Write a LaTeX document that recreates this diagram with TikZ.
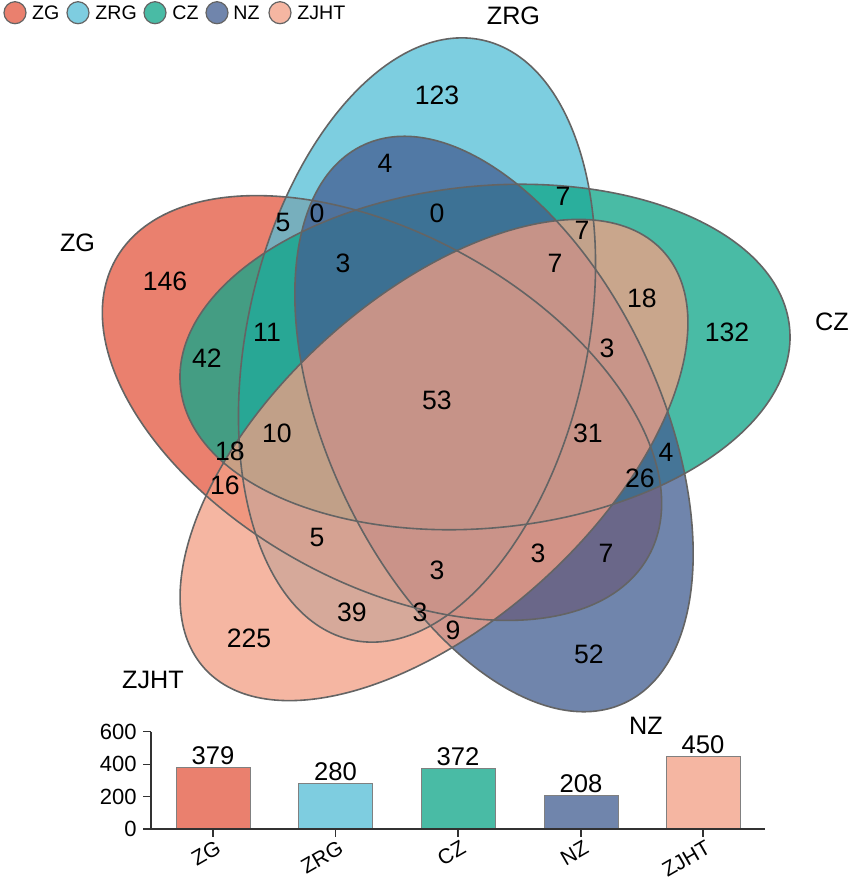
\documentclass[tikz,border=0pt]{standalone}
\usepackage{fontspec}
\setmainfont{Liberation Sans}
\definecolor{cZG}{RGB}{227,88,64}
\definecolor{cZRG}{RGB}{84,190,214}
\definecolor{cCZ}{RGB}{16,166,137}
\definecolor{cNZ}{RGB}{67,95,146}
\definecolor{cZJHT}{RGB}{242,159,133}
\definecolor{bZG}{RGB}{234,128,110}
\definecolor{bZRG}{RGB}{126,205,224}
\definecolor{bCZ}{RGB}{73,187,165}
\definecolor{bNZ}{RGB}{112,133,172}
\definecolor{bZJHT}{RGB}{245,182,162}
\definecolor{edge}{RGB}{100,100,100}
\definecolor{axisc}{RGB}{50,50,50}
\begin{document}
\begin{tikzpicture}[x=0.5pt,y=-0.5pt,
  setfill/.style={fill=#1, fill opacity=0.76, draw=none},
  setedge/.style={draw=edge, line width=0.8pt},
  num/.style={font=\fontsize{13.3}{15}\selectfont, inner sep=0pt},
  setname/.style={font=\fontsize{12.6}{15}\selectfont, inner sep=0pt},
  legtext/.style={font=\fontsize{9.8}{12}\selectfont, anchor=west, inner sep=0pt},
  legdot/.style={circle, draw=edge, line width=0.6pt, minimum size=11pt, inner sep=0pt, fill=#1},
  barbox/.style={fill=#1, draw=gray, line width=0.4pt},
  axisline/.style={draw=axisc, line width=0.7pt},
  barval/.style={font=\fontsize{12.8}{15}\selectfont, inner sep=0pt, anchor=base},
  ticklab/.style={font=\fontsize{11}{12}\selectfont, inner sep=0pt, anchor=east},
  catlab/.style={font=\fontsize{10.5}{12}\selectfont, inner sep=0pt, anchor=north east, rotate=30}
]
\useasboundingbox (0,0) rectangle (851,880);

% ---------- set fills ----------
\path[setfill=cZG,   shift={(382,408)}, rotate=-29.1] (0,0) ellipse [x radius=305, y radius=174];
\path[setfill=cZRG,  shift={(417,340)}, rotate=77.7]  (0,0) ellipse [x radius=307, y radius=170];
\path[setfill=cCZ,   shift={(485,357)}, rotate=5.5]   (0,0) ellipse [x radius=306, y radius=171];
\path[setfill=cNZ,   shift={(494,424)}, rotate=-64.9] (0,0) ellipse [x radius=308, y radius=166];
\path[setfill=cZJHT, shift={(434,460)}, rotate=42.3]  (0,0) ellipse [x radius=310, y radius=162];

% ---------- set outlines ----------
\draw[setedge, shift={(382,408)}, rotate=-29.1] (0,0) ellipse [x radius=305, y radius=174];
\draw[setedge, shift={(417,340)}, rotate=77.7]  (0,0) ellipse [x radius=307, y radius=170];
\draw[setedge, shift={(485,357)}, rotate=5.5]   (0,0) ellipse [x radius=306, y radius=171];
\draw[setedge, shift={(494,424)}, rotate=-64.9] (0,0) ellipse [x radius=308, y radius=166];
\draw[setedge, shift={(434,460)}, rotate=42.3]  (0,0) ellipse [x radius=310, y radius=162];

% ---------- set names ----------
\node[setname] (lZRG)  at (513.5,16) {ZRG};
\node[setname] (lZG)   at (77.5,243) {ZG};
\node[setname] (lCZ)   at (832,322) {CZ};
\node[setname] (lZJHT) at (153,680) {ZJHT};
\node[setname] (lNZ)   at (646,726) {NZ};

% ---------- region counts ----------
\node[num] (n146) at (165,281) {146};
\node[num] (n123) at (437,95)  {123};
\node[num] (n132) at (727,332) {132};
\node[num] (n52)  at (589,654) {52};
\node[num] (n225) at (249,638) {225};
\node[num] (n4a)  at (385,163) {4};
\node[num] (n5a)  at (283,222) {5};
\node[num] (n0a)  at (317,213) {0};
\node[num] (n0b)  at (437,213) {0};
\node[num] (n7a)  at (563,196) {7};
\node[num] (n7b)  at (582,230) {7};
\node[num] (n3a)  at (343,263) {3};
\node[num] (n7c)  at (555,263) {7};
\node[num] (n18a) at (642,298) {18};
\node[num] (n11)  at (267,332) {11};
\node[num] (n42)  at (207,358) {42};
\node[num] (n3b)  at (607,348) {3};
\node[num] (n53)  at (437,400) {53};
\node[num] (n10)  at (277,433) {10};
\node[num] (n31)  at (588,433) {31};
\node[num] (n18b) at (230,451) {18};
\node[num] (n4b)  at (666,452) {4};
\node[num] (n26)  at (640,478) {26};
\node[num] (n16)  at (225,485) {16};
\node[num] (n5b)  at (317,537) {5};
\node[num] (n3c)  at (538,553) {3};
\node[num] (n7d)  at (606,553) {7};
\node[num] (n3d)  at (437,570) {3};
\node[num] (n39)  at (352,612) {39};
\node[num] (n3e)  at (420,612) {3};
\node[num] (n9)   at (453,630) {9};

% ---------- legend ----------
\node[legdot=bZG]   (d1) at (15,12.7)  {};
\node[legtext]      (t1) at (31.7,12.5) {ZG};
\node[legdot=bZRG]  (d2) at (78,12.7)  {};
\node[legtext]      (t2) at (95,12.5)  {ZRG};
\node[legdot=bCZ]   (d3) at (155,12.7) {};
\node[legtext]      (t3) at (172,12.5) {CZ};
\node[legdot=bNZ]   (d4) at (217,12.7) {};
\node[legtext]      (t4) at (233,12.5) {NZ};
\node[legdot=bZJHT] (d5) at (280,12.7) {};
\node[legtext]      (t5) at (297,12.5) {ZJHT};

% ---------- bar chart ----------
\foreach \cx/\v/\c/\lab [count=\i] in {213/379/bZG/ZG, 335.5/280/bZRG/ZRG, 458/372/bCZ/CZ, 581/208/bNZ/NZ, 703/450/bZJHT/ZJHT} {
  \draw[barbox=\c] (\cx-37,829) rectangle (\cx+37,829-\v*0.16217);
  \node[barval] (bv\i) at (\cx,826-\v*0.16217) {\v};
  \coordinate (tk\i) at (\cx,829);
  \coordinate (tb\i) at (\cx,837);
  \draw[axisline] (tk\i) -- (tb\i);
  \node[catlab] (bl\i) at (\cx+2,839) {\lab};
}
\coordinate (ax0) at (151,731.7);
\coordinate (ax1) at (151,829);
\coordinate (ax2) at (765,829);
\coordinate (axl) at (143.3,829);
\draw[axisline] (ax0) -- (ax1);
\draw[axisline] (axl) -- (ax2);
\foreach \yy/\lab [count=\j] in {731.7/600, 764.3/400, 796.7/200, 829/0} {
  \coordinate (yt\j) at (151,\yy);
  \coordinate (ys\j) at (143.3,\yy);
  \draw[axisline] (ys\j) -- (yt\j);
  \node[ticklab] (yl\j) at (137,\yy) {\lab};
}
\end{tikzpicture}
\end{document}
